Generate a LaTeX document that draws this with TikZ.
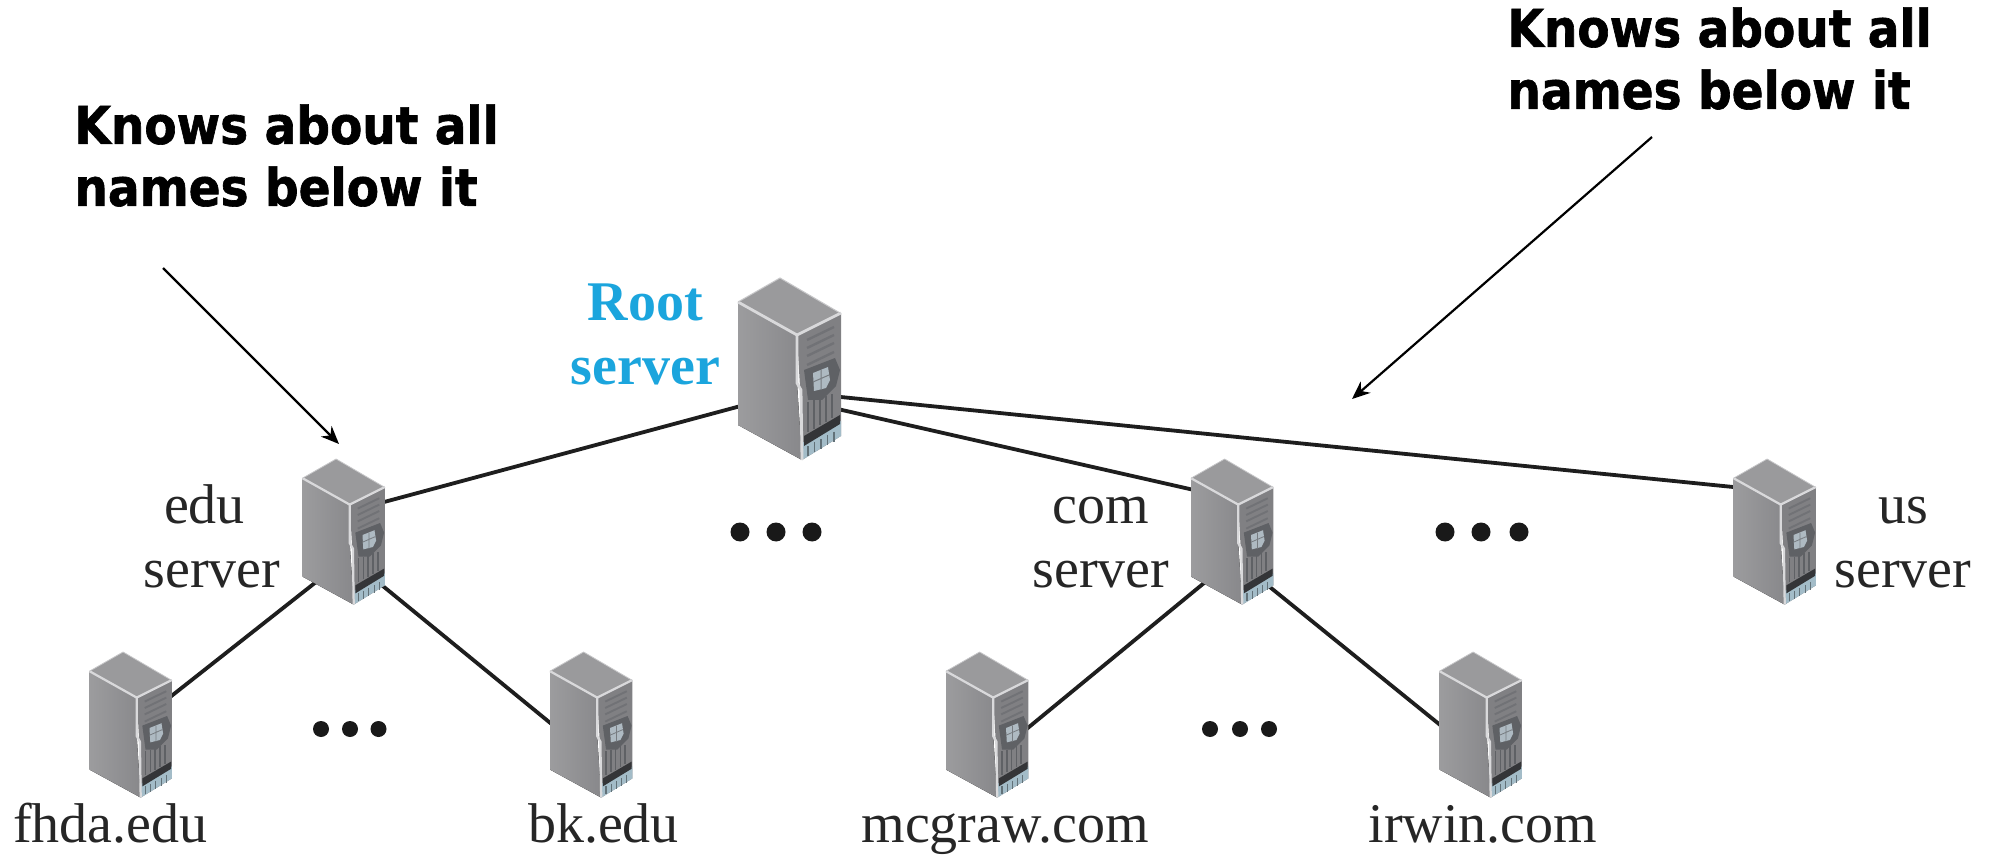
\documentclass[tikz,border=0pt]{standalone}
\usepackage{fontspec}
\setmainfont{Liberation Serif}
\newfontfamily\hdfont{DejaVu Sans}[FakeStretch=0.905,BoldFeatures={FakeBold=1.2}]
\usetikzlibrary{arrows.meta}
\definecolor{srvtop}{HTML}{9A9A9C}
\definecolor{srvleft}{HTML}{9C9C9E}
\definecolor{srvleftb}{HTML}{88888B}
\definecolor{srvfront}{HTML}{808083}
\definecolor{srvedge}{HTML}{D9D9DB}
\definecolor{srvbay}{HTML}{A3BCC8}
\definecolor{srvfan}{HTML}{5F6165}
\definecolor{srvfanl}{HTML}{AEBAC2}
\definecolor{linec}{HTML}{1E1E1E}
\definecolor{rootblue}{HTML}{1BA5DD}
\tikzset{
  srvbox/.style={inner sep=0pt,outer sep=0pt,draw=none},
  srvbig/.style={srvbox,minimum width=51.5pt,minimum height=91pt},
  srvsmall/.style={srvbox,minimum width=41.5pt,minimum height=72.5pt},
  link/.style={draw=linec,line width=1.9pt},
  pointer/.style={draw=black,line width=1.1pt,-{Stealth[length=9pt,width=7.5pt]}},
  hd/.style={font=\hdfont\bfseries\fontsize{26}{31}\selectfont,align=left,inner sep=0pt},
  lbl/.style={font=\fontsize{28}{32}\selectfont,text=black!85,align=center,inner sep=0pt},
  rootlbl/.style={font=\bfseries\fontsize{28}{32}\selectfont,text=rootblue,align=center,inner sep=0pt},
  bigdot/.style={circle,fill=black!90,draw=none,minimum size=9.5pt,inner sep=0pt},
  smalldot/.style={circle,fill=black!90,draw=none,minimum size=8pt,inner sep=0pt},
}
% #1 node name, #2 scale
\newcommand{\serverbody}[2]{%
  \begin{scope}[shift={(#1.north west)},scale=#2]
    \fill[left color=srvleft,right color=srvleftb] (0,24) -- (59,57) -- (59,105) -- (64,182) -- (0,147) -- cycle;
    \fill[srvtop] (0,24) -- (42,0) -- (102,35) -- (59,57) -- cycle;
    \fill[srvfront] (59,57) -- (103,35) -- (103,158) -- (64,182) -- (62,109) -- cycle;
    % grills
    \foreach \a/\b in {62/49,70/57,78/65,87/74} \draw[srvfan!45!srvfront,line width=1.2pt*#2] (69,\a) -- (96,\b);
    % fan plate
    \fill[srvfan] (66,92) -- (97,80) -- (102,92) -- (98,108) -- (84,122) -- (70,122) -- cycle;
    \fill[srvfanl] (75,95) -- (90,89) -- (92,102) -- (88,110) -- (76,113) -- cycle;
    \draw[srvfan!70!srvfanl,line width=0.5pt*#2] (83,92) -- (83,112) (75,104) -- (91,97);
    % vertical slots
    \foreach \i in {0,1,2,3,4} \draw[srvfan,line width=1pt*#2] ({70+\i*6},{124-\i*2}) -- ({70+\i*6},{154-\i*3.5});
    % bays
    \fill[srvbay] (64,165) -- (103,143) -- (103,158) -- (64,182) -- cycle;
    \fill[srvfan!55!black] (66,158) -- (102,137) -- (102,146) -- (66,168) -- cycle;
    \foreach \i in {0,1,2,3,4} \draw[srvbay!60!black,line width=0.7pt*#2] ({70+\i*6.5},{168-\i*3.6}) -- ({70+\i*6.5},{178-\i*3.6});
    % highlights
    \draw[srvedge,line width=1.4pt*#2,line join=round] (0,24) -- (59,57) -- (103,35);
    \draw[srvedge,line width=1.4pt*#2,line join=round] (59,57) -- (59,105) -- (63,112) -- (64,182);
    \draw[srvedge!80!gray,line width=0.5pt*#2] (0,24) -- (42,0) -- (102,35);
  \end{scope}
}
\begin{document}
\begin{tikzpicture}[x=0.5pt,y=-0.5pt]
\useasboundingbox (0,0) rectangle (1996,855);
\fill[white] (0,0) rectangle (1996,855);
\node[srvbig] (root) at (789.5,369) {};
\node[srvsmall] (edu) at (344,531.5) {};
\node[srvsmall] (com) at (1232.5,531.5) {};
\node[srvsmall] (us) at (1775,531.5) {};
\node[srvsmall] (fhda) at (131,724.5) {};
\node[srvsmall] (bk) at (591.5,724.5) {};
\node[srvsmall] (mcgraw) at (987.5,724.5) {};
\node[srvsmall] (irwin) at (1481,724.5) {};
\draw[link] ([shift={(-29.5,31.8)}]root.center) -- ([shift={(26,-25.7)}]edu.center);
\draw[link] ([shift={(30.5,36)}]root.center) -- ([shift={(-27.5,-39)}]com.center);
\draw[link] ([shift={(30.5,25.9)}]root.center) -- ([shift={(-25,-42.8)}]us.center);
\draw[link] ([shift={(-14,39.5)}]edu.center) -- ([shift={(29,-19.5)}]fhda.center);
\draw[link] ([shift={(26,44)}]edu.center) -- ([shift={(-26.5,10.5)}]bk.center);
\draw[link] ([shift={(-17.5,42.5)}]com.center) -- ([shift={(27.5,14)}]mcgraw.center);
\draw[link] ([shift={(22.5,43.5)}]com.center) -- ([shift={(-26,12.5)}]irwin.center);
\serverbody{root}{1}
\serverbody{edu}{0.8}
\serverbody{com}{0.8}
\serverbody{us}{0.8}
\serverbody{fhda}{0.8}
\serverbody{bk}{0.8}
\serverbody{mcgraw}{0.8}
\serverbody{irwin}{0.8}
\node[hd,anchor=north west] (noteL) at (74,104) {Knows about all\\names below it};
\node[hd,anchor=north west] (noteR) at (1507,7) {Knows about all\\names below it};
\coordinate (arrLs) at (163,268);
\coordinate (arrLe) at (339,444);
\coordinate (arrRs) at (1652,137);
\coordinate (arrRe) at (1352,399);
\draw[pointer] (arrLs) -- (arrLe);
\draw[pointer] (arrRs) -- (arrRe);
\node[rootlbl] (rootl) at (645.5,340) {\strut Root\\server\strut};
\node[lbl] (edul) at (212,543) {\strut\hspace*{-7.5pt}edu\\server\strut};
\node[lbl] (coml) at (1101,543) {\strut com\\server\strut};
\node[lbl] (usl) at (1903,543) {\strut us\\server\strut};
\node[lbl] (fhdal) at (110.5,830) {\strut fhda.edu};
\node[lbl] (bkl) at (603.5,830) {\strut bk.edu};
\node[lbl] (mcgrawl) at (1005,830) {\strut mcgraw.com};
\node[lbl] (irwinl) at (1483,830) {\strut irwin.com};
\node[bigdot] (d1) at (740,532) {};
\node[bigdot] (d2) at (776,532) {};
\node[bigdot] (d3) at (812,532) {};
\node[bigdot] (d4) at (1445,532) {};
\node[bigdot] (d5) at (1481,532) {};
\node[bigdot] (d6) at (1519,532) {};
\node[smalldot] (d7) at (321,729) {};
\node[smalldot] (d8) at (350,729) {};
\node[smalldot] (d9) at (378.5,729) {};
\node[smalldot] (d10) at (1210,729) {};
\node[smalldot] (d11) at (1240,729) {};
\node[smalldot] (d12) at (1269,729) {};
\end{tikzpicture}
\end{document}
